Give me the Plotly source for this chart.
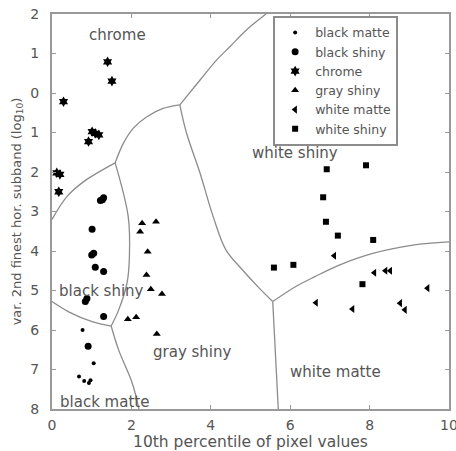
import plotly.graph_objects as go

# ---- data ----
chrome_x = [1.40, 1.51, 0.29, 1.09, 1.18, 0.92, 1.01, 0.12, 0.20, 0.17]
chrome_y = [0.79, 0.30, -0.22, -1.02, -1.06, -1.23, -0.98, -2.02, -2.06, -2.50]

bshiny_x = [1.22, 1.30, 1.27, 1.01, 1.05, 1.00, 1.09, 1.30, 0.88, 0.84, 1.30, 0.91]
bshiny_y = [-2.72, -2.65, -2.70, -3.45, -4.06, -4.10, -4.41, -4.52, -5.20, -5.28, -5.66, -6.41]

bmatte_x = [0.77, 1.05, 0.68, 0.81, 0.93, 0.97]
bmatte_y = [-6.00, -6.84, -7.18, -7.29, -7.34, -7.27]

gshiny_x = [2.27, 2.22, 2.62, 2.41, 2.38, 2.49, 2.77, 1.91, 2.12, 2.64]
gshiny_y = [-3.30, -3.51, -3.26, -4.02, -4.61, -4.97, -5.09, -5.73, -5.68, -6.10]

wshiny_x = [6.92, 7.91, 6.83, 6.90, 7.20, 8.09, 5.59, 6.08, 7.82]
wshiny_y = [-1.93, -1.83, -2.64, -3.26, -3.61, -3.72, -4.42, -4.35, -4.84]

wmatte_x = [7.11, 8.12, 8.40, 8.52, 9.46, 6.65, 7.57, 8.77, 8.89]
wmatte_y = [-4.12, -4.55, -4.50, -4.50, -4.94, -5.31, -5.47, -5.32, -5.49]

# decision boundaries
bnd_A_x = [0.0, 0.37, 0.79, 1.59]
bnd_A_y = [-3.20, -2.63, -2.25, -1.77]
bnd_B_x = [1.59, 1.80, 2.05, 2.39, 2.80, 3.22]
bnd_B_y = [-1.77, -1.27, -0.89, -0.60, -0.39, -0.30]
bnd_C_x = [3.22, 3.73, 4.15, 4.48, 4.89, 5.39]
bnd_C_y = [-0.30, 0.33, 0.84, 1.17, 1.59, 2.00]
bnd_D_x = [3.22, 3.39, 3.73, 4.06, 4.38, 4.80, 5.22, 5.56]
bnd_D_y = [-0.30, -1.02, -2.03, -3.13, -3.97, -4.48, -4.94, -5.28]
bnd_E_x = [5.56, 5.70]
bnd_E_y = [-5.28, -8.00]
bnd_F_x = [5.56, 6.12, 6.62, 7.25, 8.08, 9.09, 10.0]
bnd_F_y = [-5.28, -4.91, -4.65, -4.35, -4.06, -3.85, -3.77]
bnd_G_x = [1.59, 1.92, 1.95, 1.89, 1.68, 1.49]
bnd_G_y = [-1.77, -3.13, -4.14, -4.81, -5.49, -5.90]
bnd_H_x = [0.0, 0.42, 1.01, 1.49]
bnd_H_y = [-5.28, -5.54, -5.79, -5.90]
bnd_I_x = [1.49, 1.68, 2.02, 2.19]
bnd_I_y = [-5.90, -6.51, -7.34, -8.00]

region_labels = ["chrome", "white shiny", "black shiny", "gray shiny", "black matte", "white matte"]
region_x = [1.66, 6.11, 1.25, 3.53, 1.31, 7.13]
region_y = [1.47, -1.52, -5.01, -6.55, -7.82, -7.06]

x_ticks = [0, 2, 4, 6, 8, 10]
y_ticks = [2, 1, 0, -1, -2, -3, -4, -5, -6, -7, -8]
y_ticktext = ["2", "1", "0", "1", "2", "3", "4", "5", "6", "7", "8"]

FONT = "DejaVu Sans, Arial, sans-serif"
TXT = "#555555"
LINE = "#8c8c8c"

fig = go.Figure()

for bx, by in [(bnd_A_x, bnd_A_y), (bnd_B_x, bnd_B_y), (bnd_C_x, bnd_C_y),
               (bnd_D_x, bnd_D_y), (bnd_E_x, bnd_E_y), (bnd_F_x, bnd_F_y),
               (bnd_G_x, bnd_G_y), (bnd_H_x, bnd_H_y), (bnd_I_x, bnd_I_y)]:
    fig.add_trace(go.Scatter(x=bx, y=by, mode="lines", showlegend=False,
                             line=dict(color=LINE, width=1.3, shape="spline"),
                             hoverinfo="skip"))

series = [
    ("black matte", bmatte_x, bmatte_y, "circle", 4),
    ("black shiny", bshiny_x, bshiny_y, "circle", 7),
    ("chrome", chrome_x, chrome_y, "hexagram", 8),
    ("gray shiny", gshiny_x, gshiny_y, "triangle-up", 7),
    ("white matte", wmatte_x, wmatte_y, "triangle-left", 7),
    ("white shiny", wshiny_x, wshiny_y, "square", 6),
]
for name, sx, sy, sym, sz in series:
    fig.add_trace(go.Scatter(x=sx, y=sy, mode="markers", name=name,
                             marker=dict(symbol=sym, size=sz, color="black",
                                         line=dict(width=0))))

for t, tx, ty in zip(region_labels, region_x, region_y):
    fig.add_annotation(x=tx, y=ty, text=t, showarrow=False,
                       font=dict(family=FONT, size=15, color=TXT))

axis_common = dict(showline=True, linecolor="#999999", linewidth=2, mirror="ticks",
                   ticks="inside", ticklen=4, tickcolor="#999999", tickwidth=1,
                   showgrid=False, zeroline=False, automargin=False,
                   ticklabeloverflow="allow",
                   tickfont=dict(family=FONT, size=14, color=TXT))

fig.update_layout(
    width=456, height=451,
    margin=dict(l=52, r=7, t=14, b=42),
    plot_bgcolor="white", paper_bgcolor="white",
    font=dict(family=FONT, color=TXT),
    xaxis=dict(range=[0, 10], tickvals=x_ticks, ticklabelstandoff=2,
               title=dict(text="10th percentile of pixel values", standoff=2,
                          font=dict(family=FONT, size=15.5, color=TXT)),
               **axis_common),
    yaxis=dict(range=[-8, 2], tickvals=y_ticks, ticktext=y_ticktext,
               ticklabelstandoff=8,
               title=dict(text="var. 2nd finest hor. subband (log<sub>10</sub>)", standoff=6,
                          font=dict(family=FONT, size=13, color=TXT)),
               **axis_common),
    legend=dict(x=0.557, y=0.995, xanchor="left", yanchor="top",
                bgcolor="white", bordercolor="#8c8c8c", borderwidth=2,
                font=dict(family=FONT, size=12.5, color=TXT),
                tracegroupgap=0, itemsizing="trace"),
)

fig.write_html("out.html", config={"displayModeBar": False},
               post_script="document.body.style.margin='0';document.body.style.overflow='hidden';")
